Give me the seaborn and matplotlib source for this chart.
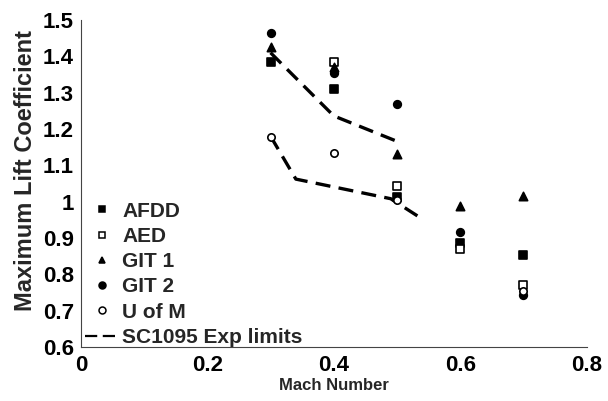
import numpy as np
import pandas as pd
import matplotlib
matplotlib.use("Agg")
import matplotlib.pyplot as plt
import seaborn as sns
from matplotlib.lines import Line2D

# Data
afdd_mach = [0.3, 0.4, 0.5, 0.6, 0.7]
afdd_cl = [1.385, 1.31, 1.013, 0.887, 0.853]
aed_mach = [0.4, 0.5, 0.6, 0.7]
aed_cl = [1.385, 1.043, 0.869, 0.77]
git1_mach = [0.3, 0.4, 0.5, 0.6, 0.7]
git1_cl = [1.425, 1.37, 1.131, 0.988, 1.015]
git2_mach = [0.3, 0.4, 0.5, 0.6, 0.7]
git2_cl = [1.463, 1.355, 1.269, 0.917, 0.743]
uofm_mach = [0.3, 0.4, 0.5, 0.7]
uofm_cl = [1.179, 1.133, 1.005, 0.755]

upper_mach = [0.3, 0.4, 0.5]
upper_cl = [1.41, 1.236, 1.166]
lower_mach = [0.3, 0.34, 0.49, 0.54]
lower_cl = [1.18, 1.062, 1.008, 0.952]

sns.set_style("white")
plt.rcParams['font.family'] = ['Liberation Sans', 'DejaVu Sans']
plt.rcParams['font.weight'] = 'bold'

fig = plt.figure(figsize=(6.08, 4.01), dpi=100)
ax = fig.add_axes([0.133, 0.135, 0.832, 0.815])

# dashed limit lines
for xs, ys in [(upper_mach, upper_cl), (lower_mach, lower_cl)]:
    sns.lineplot(x=xs, y=ys, ax=ax, color='black', lw=2.4, sort=False,
                 linestyle=(0, (4.5, 2.5)))

series = [
    ('AFDD', afdd_mach, afdd_cl, 's', 'black', 34),
    ('AED', aed_mach, aed_cl, 's', 'white', 28),
    ('GIT 1', git1_mach, git1_cl, '^', 'black', 36),
    ('GIT 2', git2_mach, git2_cl, 'o', 'black', 30),
    ('U of M', uofm_mach, uofm_cl, 'o', 'white', 28),
]
for name, xs, ys, mk, fc, sz in series:
    sns.scatterplot(x=xs, y=ys, ax=ax, marker=mk, s=sz, color=fc,
                    edgecolor='black', linewidth=1.2, zorder=3)

ax.set_xlim(0, 0.8)
ax.set_ylim(0.6, 1.5)
ax.set_xticks([0, 0.2, 0.4, 0.6, 0.8])
ax.set_xticklabels(['0', '0.2', '0.4', '0.6', '0.8'])
ax.set_yticks(np.arange(0.6, 1.51, 0.1))
ax.set_yticklabels(['0.6', '0.7', '0.8', '0.9', '1', '1.1', '1.2', '1.3', '1.4', '1.5'])
ax.tick_params(axis='both', labelsize=16, direction='out', length=3, width=0.8,
               colors='black')
ax.tick_params(axis='y', pad=2)
ax.tick_params(axis='x', pad=3)
for lab in ax.get_xticklabels() + ax.get_yticklabels():
    lab.set_fontweight('bold')

for side in ['top', 'right']:
    ax.spines[side].set_visible(False)
for side in ['left', 'bottom']:
    ax.spines[side].set_color('#444444')
    ax.spines[side].set_linewidth(0.8)

ax.set_xlabel('Mach Number', fontsize=12, fontweight='bold', labelpad=1)
ax.set_ylabel('Maximum Lift Coefficient', fontsize=17, fontweight='bold', labelpad=4)
ax.yaxis.label.set_y(0.54)

handles = []
for name, xs, ys, mk, fc, sz in series:
    handles.append(Line2D([], [], marker=mk, linestyle='none', markerfacecolor=fc,
                          markeredgecolor='black', markersize=5, markeredgewidth=1.1,
                          label=name))
handles.append(Line2D([], [], color='black', lw=1.6, linestyle=(0, (5.5, 2.5)),
                      label='SC1095 Exp limits'))
ax.legend(handles=handles, loc='lower left', bbox_to_anchor=(0.008, 0.0),
          frameon=False, prop={'weight': 'bold', 'size': 15}, labelspacing=0.3,
          handlelength=1.6, handletextpad=0.2, borderaxespad=0, borderpad=0)

fig.savefig('out.png', dpi=100)
